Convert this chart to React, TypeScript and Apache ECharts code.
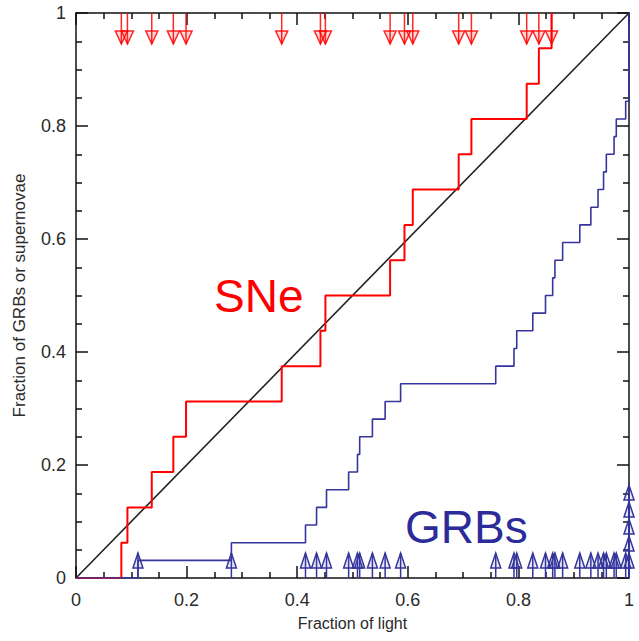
import React, { useEffect, useRef } from "react";
import * as echarts from "echarts";

const xTicks = [0, 0.2, 0.4, 0.6, 0.8, 1];
const snValues = [0.082, 0.093, 0.137, 0.176, 0.199, 0.372, 0.442, 0.451, 0.568, 0.594, 0.609, 0.692, 0.715, 0.815, 0.837, 0.86];
const grbValues = [
  0.112, 0.281, 0.415, 0.435, 0.453, 0.493, 0.509, 0.513, 0.536, 0.559, 0.587,
  0.759, 0.792, 0.797, 0.826, 0.849, 0.862, 0.866, 0.88, 0.911, 0.931, 0.944,
  0.954, 0.959, 0.973, 0.977, 0.994, 1, 1, 1, 1, 1,
];
const diagonal = [[0, 0], [1, 1]];

const RED = "#ff0000";
const BLUE = "#35359c";
const FONT = "'Liberation Sans', Arial, Helvetica, sans-serif";

function cdf(vals: number[]) {
  const n = vals.length;
  const pts: number[][] = [[0, 0]];
  vals.forEach((v, i) => pts.push([v, (i + 1) / n]));
  return pts;
}

function stacked(vals: number[]) {
  return vals.map((v, i) => {
    let k = 0;
    for (let j = 0; j < i; j++) if (vals[j] === v) k++;
    return [v, 0, k];
  });
}

export default function App() {
  const ref = useRef<HTMLDivElement>(null);
  useEffect(() => {
    if (!ref.current) return;
    const chart = echarts.init(ref.current, undefined, { renderer: "svg" });
    const axisCommon = {
      type: "value" as const,
      min: 0,
      max: 1,
      interval: 0.2,
      axisLine: { show: true, onZero: false, lineStyle: { color: "#111", width: 1.5 } },
      axisTick: { show: true, inside: true, length: 12, lineStyle: { color: "#111", width: 1.5 } },
      minorTick: { show: true, splitNumber: 4, length: 6, lineStyle: { color: "#111", width: 1.5 } },
      splitLine: { show: false },
      minorSplitLine: { show: false },
    };
    chart.setOption({
      animation: false,
      backgroundColor: "#ffffff",
      grid: { left: 76, right: 10, top: 13, bottom: 63, containLabel: false },
      xAxis: [
        {
          ...axisCommon,
          position: "bottom",
          name: "Fraction of light",
          nameLocation: "middle",
          nameGap: 37,
          nameTextStyle: { fontFamily: FONT, fontSize: 16, color: "#2a2a2a" },
          axisLabel: {
            margin: 13,
            fontFamily: FONT,
            fontSize: 18,
            color: "#2a2a2a",
            formatter: (v: number) => (xTicks.includes(+v.toFixed(2)) ? String(+v.toFixed(2)) : ""),
          },
        },
        { ...axisCommon, position: "top", axisLabel: { show: false } },
      ],
      yAxis: [
        {
          ...axisCommon,
          position: "left",
          name: "Fraction of GRBs or supernovae",
          nameLocation: "middle",
          nameGap: 48,
          nameTextStyle: { fontFamily: FONT, fontSize: 17, color: "#2a2a2a" },
          axisLabel: {
            margin: 10,
            fontFamily: FONT,
            fontSize: 18,
            color: "#2a2a2a",
            formatter: (v: number) => String(+v.toFixed(2)),
          },
        },
        { ...axisCommon, position: "right", axisLabel: { show: false } },
      ],
      series: [
        {
          type: "line",
          data: diagonal,
          symbol: "none",
          lineStyle: { color: "#222", width: 1.6 },
          z: 2,
        },
        {
          type: "line",
          data: cdf(snValues),
          step: "end",
          symbol: "none",
          lineStyle: { color: RED, width: 2 },
          z: 3,
        },
        {
          type: "line",
          data: cdf(grbValues),
          step: "end",
          symbol: "none",
          lineStyle: { color: BLUE, width: 1.6 },
          z: 3,
        },
        {
          type: "custom",
          data: snValues.map((v) => [v, 1]),
          encode: { x: 0, y: 1 },
          z: 4,
          renderItem: (_p: any, api: any) => {
            const p = api.coord([api.value(0), 1]);
            const x = p[0];
            const y = p[1];
            return {
              type: "group",
              children: [
                { type: "line", shape: { x1: x, y1: y, x2: x, y2: y + 31 }, style: { stroke: "rgba(255,0,0,0.85)", lineWidth: 1.5 } },
                {
                  type: "polygon",
                  shape: { points: [[x - 6, y + 18], [x + 6, y + 18], [x, y + 31]] },
                  style: { stroke: "rgba(255,0,0,0.85)", fill: "rgba(255,0,0,0.15)", lineWidth: 1.5 },
                },
              ],
            };
          },
        },
        {
          type: "custom",
          data: stacked(grbValues),
          encode: { x: 0, y: 1 },
          z: 4,
          renderItem: (_p: any, api: any) => {
            const p = api.coord([api.value(0), 0]);
            const k = api.value(2);
            const x = p[0];
            const y0 = p[1];
            const b = y0 - k * 17;
            return {
              type: "group",
              children: [
                { type: "line", shape: { x1: x, y1: y0, x2: x, y2: b - 25 }, style: { stroke: BLUE, lineWidth: 1.5 } },
                {
                  type: "polygon",
                  shape: { points: [[x - 5, b - 10], [x + 5, b - 10], [x, b - 25]] },
                  style: { stroke: BLUE, fill: "rgba(60,60,170,0.12)", lineWidth: 1.5 },
                },
              ],
            };
          },
        },
      ],
      graphic: [
        {
          type: "text",
          x: 214,
          y: 273,
          style: { text: "SNe", fontFamily: FONT, fontSize: 46, fill: RED, verticalAlign: "top" },
          z: 10,
        },
        {
          type: "text",
          x: 405,
          y: 504,
          style: { text: "GRBs", fontFamily: FONT, fontSize: 46, fill: "#2b2b99", verticalAlign: "top" },
          z: 10,
        },
      ],
    });
    return () => chart.dispose();
  }, []);
  return (
    <div
      ref={ref}
      style={{ position: "absolute", left: 0, top: 0, width: 639, height: 641, background: "#fff" }}
    />
  );
}
